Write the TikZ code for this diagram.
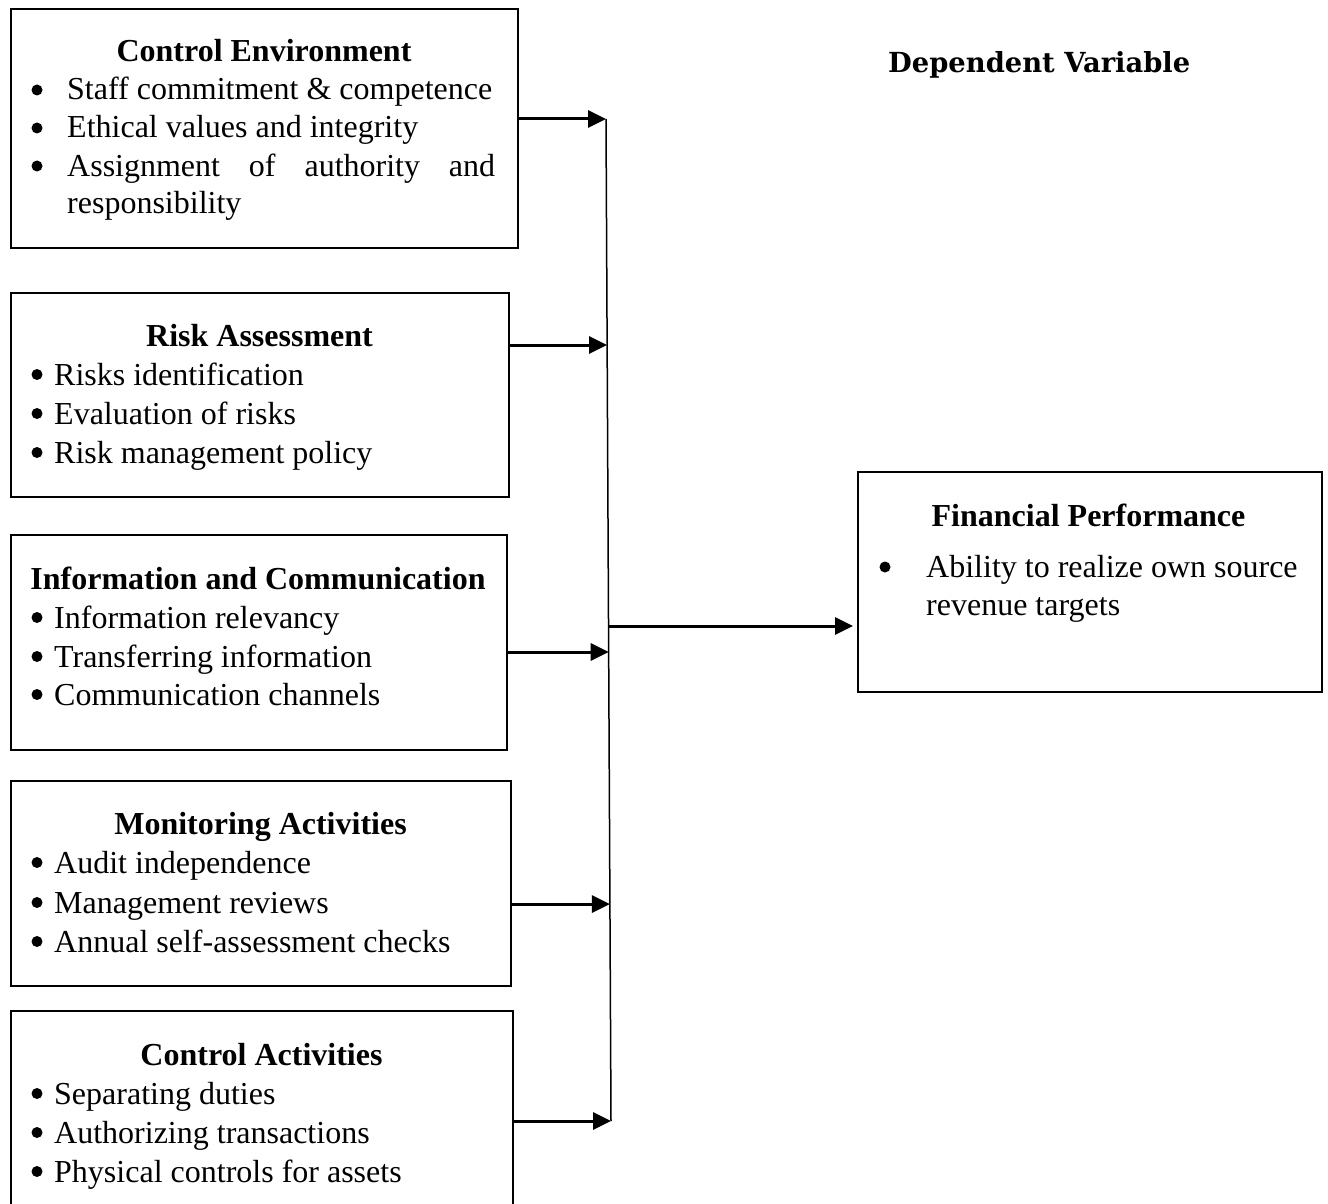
\documentclass[tikz,border=0pt]{standalone}
\usepackage{fontspec}
\usepackage{graphicx}
\setmainfont{Liberation Serif}
\newfontfamily\depfont{DejaVu Serif}
\usetikzlibrary{arrows.meta}
\begin{document}
\begin{tikzpicture}[x=1pt,y=-1pt,
  box/.style={draw,line width=2pt,rectangle,inner sep=0pt,anchor=north west},
  txt/.style={anchor=base west,inner sep=0pt,font=\fontsize{32}{38}\selectfont},
  ttl/.style={anchor=base,inner sep=0pt,font=\fontsize{32}{38}\selectfont\bfseries},
  dot/.style={circle,fill=black,inner sep=0pt,minimum size=11pt},
  arr/.style={line width=3pt,-{Triangle[length=18pt,width=17pt]}},
  vline/.style={line width=1.5pt}
]
\clip (0,0) rectangle (1328,1204);
\fill[white] (0,0) rectangle (1328,1204);

% Control Environment
\node[box,minimum width=507pt,minimum height=239pt] (ce) at (10,8) {};
\node[ttl] (cet) at (264,62) {Control Environment};
\node[dot] (ceb1) at (37,90) {};
\node[txt] (ce1) at (67,100) {Staff commitment \& competence};
\node[dot] (ceb2) at (37,128) {};
\node[txt] (ce2) at (67,138) {Ethical values and integrity};
\node[dot] (ceb3) at (37,166) {};
\node[txt] (ce3) at (67,176) {\makebox[428pt][s]{Assignment of authority and}};
\node[txt] (ce4) at (67,213) {responsibility};

% Risk Assessment
\node[box,minimum width=498pt,minimum height=204pt] (ra) at (10,292) {};
\node[ttl] (rat) at (259.5,346) {Risk Assessment};
\node[dot] (rab1) at (37,374.5) {};
\node[txt] (ra1) at (54,385) {Risks identification};
\node[dot] (rab2) at (37,413.5) {};
\node[txt] (ra2) at (54,424) {Evaluation of risks};
\node[dot] (rab3) at (37,452.5) {};
\node[txt] (ra3) at (54,463) {Risk management policy};

% Information and Communication
\node[box,minimum width=496pt,minimum height=215pt] (ic) at (10,534) {};
\node[ttl] (ict) at (258,589) {Information and Communication};
\node[dot] (icb1) at (37,617.5) {};
\node[txt] (ic1) at (54,628) {Information relevancy};
\node[dot] (icb2) at (37,656.5) {};
\node[txt] (ic2) at (54,667) {Transferring information};
\node[dot] (icb3) at (37,694.5) {};
\node[txt] (ic3) at (54,705) {Communication channels};

% Monitoring Activities
\node[box,minimum width=500pt,minimum height=205pt] (ma) at (10,780) {};
\node[ttl] (mat) at (260.5,834) {Monitoring Activities};
\node[dot] (mab1) at (37,862.5) {};
\node[txt] (ma1) at (54,873) {Audit independence};
\node[dot] (mab2) at (37,902.5) {};
\node[txt] (ma2) at (54,913) {Management reviews};
\node[dot] (mab3) at (37,941.5) {};
\node[txt] (ma3) at (54,952) {Annual self-assessment checks};

% Control Activities
\node[box,minimum width=502pt,minimum height=210pt] (ca) at (10,1010) {};
\node[ttl] (cat) at (261.5,1065) {Control Activities};
\node[dot] (cab1) at (37,1093.5) {};
\node[txt] (ca1) at (54,1104) {Separating duties};
\node[dot] (cab2) at (37,1132.5) {};
\node[txt] (ca2) at (54,1143) {Authorizing transactions};
\node[dot] (cab3) at (37,1171.5) {};
\node[txt] (ca3) at (54,1182) {Physical controls for assets};

% Financial Performance
\node[box,minimum width=464pt,minimum height=220pt] (fp) at (857,471) {};
\node[ttl] (fpt) at (1088.5,526) {Financial Performance};
\node[dot] (fpb1) at (885,567) {};
\node[txt] (fp1) at (926,577) {Ability to realize own source};
\node[txt] (fp2) at (926,615) {revenue targets};

% Dependent Variable
\node[anchor=base west,inner sep=0pt] (dv) at (888,73)
  {\resizebox{302pt}{21pt}{\depfont\bfseries Dependent Variable}};

% junction coordinates on the collector line
\coordinate (j1) at (606,119);
\coordinate (j2) at (607.1,345);
\coordinate (j3) at (608.7,652);
\coordinate (jo) at (608.5,626);
\coordinate (j4) at (609.9,904);
\coordinate (j5) at (611,1121);

\draw[vline] (j1) -- (j5);
\draw[arr] (ce.east |- j1) -- (j1);
\draw[arr] (ra.east |- j2) -- (j2);
\draw[arr] (ic.east |- j3) -- (j3);
\draw[arr] (ma.east |- j4) -- (j4);
\draw[arr] (ca.east |- j5) -- (j5);
\draw[arr,shorten >=4pt] (jo) -- (fp.west |- jo);
\end{tikzpicture}
\end{document}
